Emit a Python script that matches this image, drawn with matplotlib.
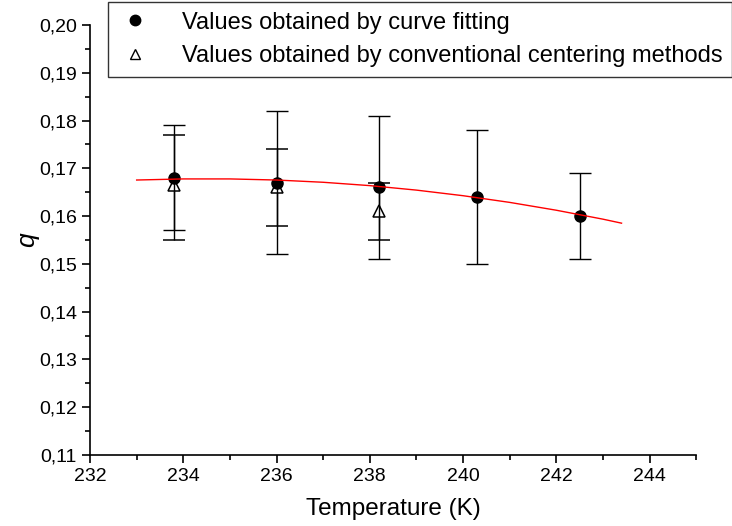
import numpy as np
import matplotlib.pyplot as plt
from matplotlib.ticker import MultipleLocator, FuncFormatter
from matplotlib.lines import Line2D

plt.rcParams['font.family'] = ['Liberation Sans', 'DejaVu Sans']

# curve fitting results (filled circles)
temp_fit = [233.8, 236.0, 238.2, 240.3, 242.5]
q_fit = [0.168, 0.167, 0.166, 0.164, 0.160]
q_fit_err = [0.011, 0.015, 0.015, 0.014, 0.009]

# conventional centering (open triangles)
temp_conv = [233.8, 236.0, 238.2]
q_conv = [0.1665, 0.166, 0.161]
q_conv_low = [0.0115, 0.008, 0.006]
q_conv_high = [0.0105, 0.008, 0.006]

# red fit line
temp_curve = [233.0, 234.0, 235.0, 236.0, 237.0, 238.0, 239.0, 240.0, 241.0, 242.0, 243.0, 243.4]
q_curve = [0.16755, 0.16778, 0.16778, 0.16755, 0.16708, 0.16638, 0.16544, 0.16427, 0.16287, 0.16123, 0.15936, 0.15852]

fig = plt.figure(figsize=(7.32, 5.26), dpi=100)
ax = fig.add_axes([0.123, 0.135, 0.828, 0.8175])

ax.errorbar(temp_conv, q_conv, yerr=[q_conv_low, q_conv_high], fmt='^', color='black',
            mfc='white', mec='black', ms=8.5, mew=1.1, ecolor='black', elinewidth=1,
            capsize=8, capthick=1, zorder=2)
ax.errorbar(temp_fit, q_fit, yerr=q_fit_err, fmt='o', color='black', ms=8,
            ecolor='black', elinewidth=1, capsize=8, capthick=1, zorder=3)
ax.plot(temp_curve, q_curve, color='red', lw=1, zorder=4)

ax.set_xlim(232, 245)
ax.set_ylim(0.11, 0.20)
ax.xaxis.set_major_locator(MultipleLocator(2))
ax.xaxis.set_minor_locator(MultipleLocator(1))
ax.yaxis.set_major_locator(MultipleLocator(0.01))
ax.yaxis.set_minor_locator(MultipleLocator(0.005))
ax.yaxis.set_major_formatter(FuncFormatter(lambda v, p: f"{v:.2f}".replace('.', ',')))

for s in ['top', 'right']:
    ax.spines[s].set_visible(False)
for s in ['left', 'bottom']:
    ax.spines[s].set_linewidth(1.2)
ax.tick_params(which='major', direction='out', length=6, width=1.2, labelsize=14, colors='black')
ax.tick_params(which='minor', direction='out', length=3.5, width=1.2)

ax.set_xlabel('Temperature (K)', fontsize=17.5, labelpad=9)
ax.set_ylabel('q', fontsize=19, style='italic', labelpad=0)

handles = [
    Line2D([], [], ls='none', marker='o', color='black', ms=7.5),
    Line2D([], [], ls='none', marker='^', color='black', mfc='white', ms=7, mew=1),
]
labels = ['Values obtained by curve fitting', 'Values obtained by conventional centering methods']
leg = fig.legend(handles, labels, loc='upper left', bbox_to_anchor=(0.1475, 0.996),
                 borderaxespad=0, fontsize=17, frameon=True, fancybox=False, edgecolor='black',
                 handletextpad=1.25, borderpad=0.4, labelspacing=0.5, handlelength=1.5)
leg.get_frame().set_linewidth(1)

fig.savefig('out.png', dpi=100)
